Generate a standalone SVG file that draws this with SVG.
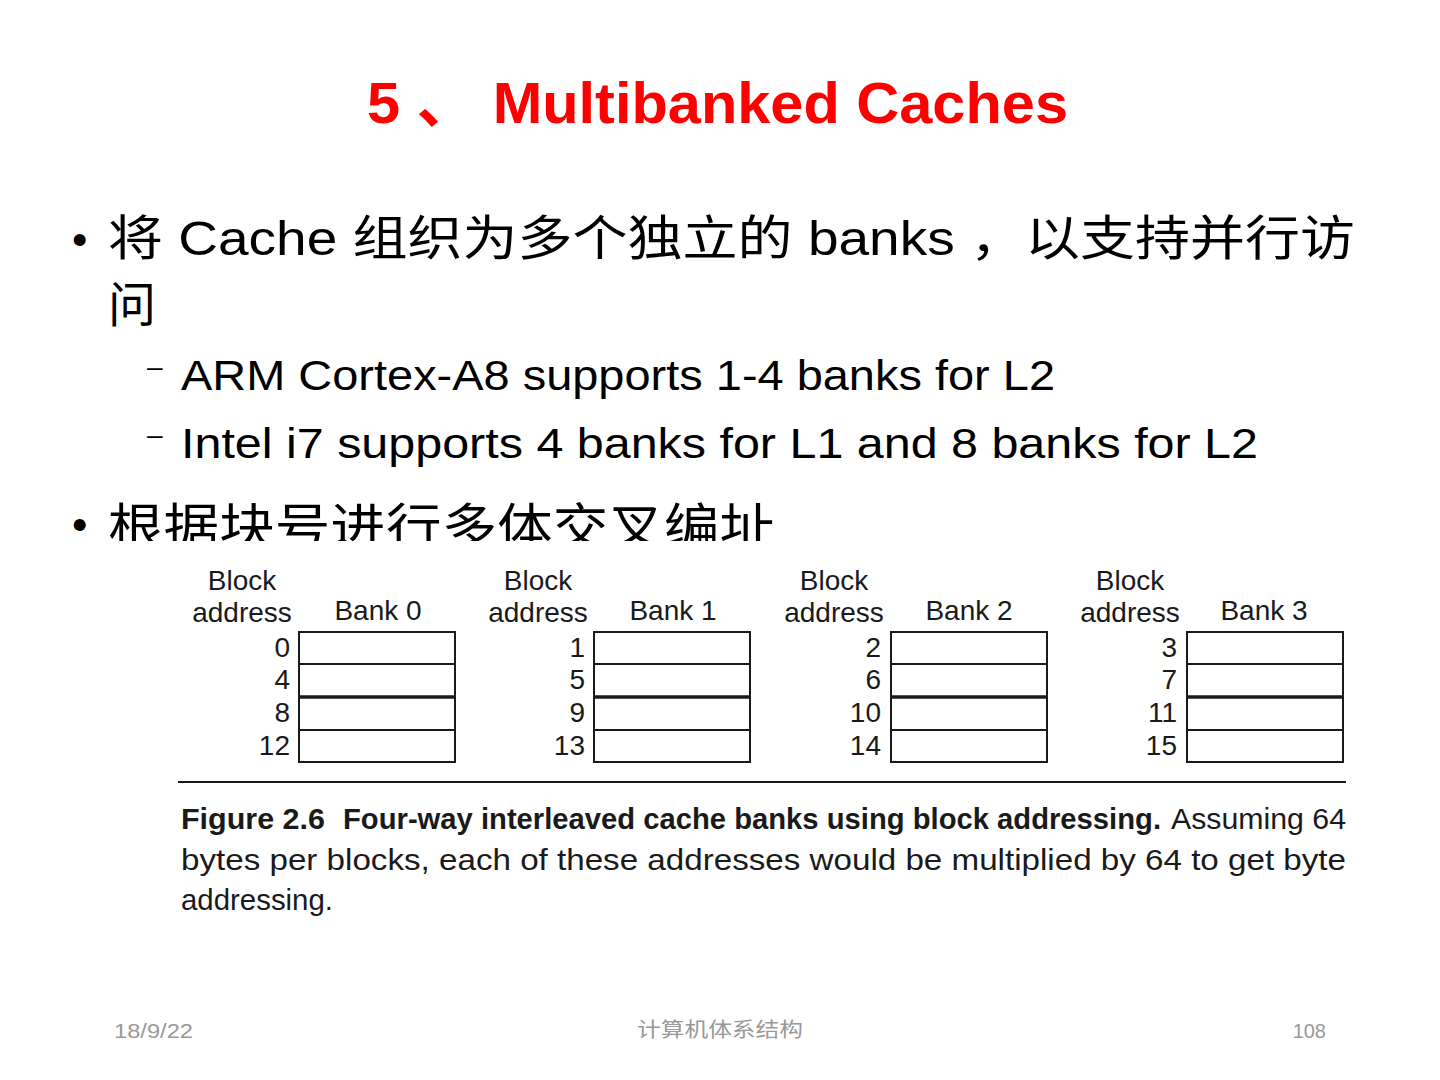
<svg xmlns="http://www.w3.org/2000/svg" width="1440" height="1080" viewBox="0 0 1440 1080">
<style>
.t{font-family:"Liberation Sans","Noto Sans CJK SC",sans-serif;fill:#000}
.title{font-family:"Liberation Sans","Noto Sans CJK SC",sans-serif;fill:#ff0000;font-weight:bold;font-size:58px}
.fig{font-family:"Liberation Sans",sans-serif;fill:#1a1a1a;font-size:28px}
.num{font-family:"Liberation Sans",sans-serif;fill:#1a1a1a;font-size:28px;text-anchor:end}
.cap{font-family:"Liberation Sans Narrow","Liberation Sans",sans-serif;fill:#1a1a1a;font-size:29px}
.foot{font-family:"Liberation Sans","Noto Sans CJK SC",sans-serif;fill:#999;font-size:20px}
.box{fill:#fff;stroke:#1a1a1a;stroke-width:2}
.row{stroke:#1a1a1a;stroke-width:2}
.rowb{stroke:#1a1a1a;stroke-width:3.5}
</style>
<rect width="1440" height="1080" fill="#fff"/>
<g id="title">
<text class="title" x="367" y="123" textLength="701" lengthAdjust="spacingAndGlyphs">5 、 Multibanked Caches</text>
</g>
<g id="bullets">
<text class="t" x="72" y="255" font-size="44">•</text>
<text class="t" x="108" y="255" font-size="48" textLength="1247" lengthAdjust="spacingAndGlyphs">将 Cache 组织为多个独立的 banks ，以支持并行访</text>
<text class="t" x="108" y="322" font-size="48">问</text>
<text class="t" x="147" y="376" font-size="28">–</text>
<text class="t" x="181" y="390" font-size="42" textLength="874" lengthAdjust="spacingAndGlyphs">ARM Cortex-A8 supports 1-4 banks for L2</text>
<text class="t" x="147" y="444" font-size="28">–</text>
<text class="t" x="181" y="458" font-size="42" textLength="1077" lengthAdjust="spacingAndGlyphs">Intel i7 supports 4 banks for L1 and 8 banks for L2</text>
<text class="t" x="72" y="540" font-size="44">•</text>
<text class="t" x="108" y="545" font-size="50" textLength="667" lengthAdjust="spacingAndGlyphs">根据块号进行多体交叉编址</text>
</g>
<rect x="100" y="541" width="1260" height="390" fill="#fff"/>
<g id="bank0">
<text class="fig" x="242" y="590" text-anchor="middle">Block</text>
<text class="fig" x="242" y="622" text-anchor="middle">address</text>
<text class="fig" x="378" y="620" text-anchor="middle">Bank 0</text>
<rect class="box" x="299" y="632" width="156" height="130"/>
<line class="row" x1="299" y1="664" x2="455" y2="664"/>
<line class="rowb" x1="299" y1="697" x2="455" y2="697"/>
<line class="row" x1="299" y1="730" x2="455" y2="730"/>
<text class="num" x="290" y="657">0</text>
<text class="num" x="290" y="689">4</text>
<text class="num" x="290" y="722">8</text>
<text class="num" x="290" y="755">12</text>
</g>
<g id="bank1">
<text class="fig" x="538" y="590" text-anchor="middle">Block</text>
<text class="fig" x="538" y="622" text-anchor="middle">address</text>
<text class="fig" x="673" y="620" text-anchor="middle">Bank 1</text>
<rect class="box" x="594" y="632" width="156" height="130"/>
<line class="row" x1="594" y1="664" x2="750" y2="664"/>
<line class="rowb" x1="594" y1="697" x2="750" y2="697"/>
<line class="row" x1="594" y1="730" x2="750" y2="730"/>
<text class="num" x="585" y="657">1</text>
<text class="num" x="585" y="689">5</text>
<text class="num" x="585" y="722">9</text>
<text class="num" x="585" y="755">13</text>
</g>
<g id="bank2">
<text class="fig" x="834" y="590" text-anchor="middle">Block</text>
<text class="fig" x="834" y="622" text-anchor="middle">address</text>
<text class="fig" x="969" y="620" text-anchor="middle">Bank 2</text>
<rect class="box" x="891" y="632" width="156" height="130"/>
<line class="row" x1="891" y1="664" x2="1047" y2="664"/>
<line class="rowb" x1="891" y1="697" x2="1047" y2="697"/>
<line class="row" x1="891" y1="730" x2="1047" y2="730"/>
<text class="num" x="881" y="657">2</text>
<text class="num" x="881" y="689">6</text>
<text class="num" x="881" y="722">10</text>
<text class="num" x="881" y="755">14</text>
</g>
<g id="bank3">
<text class="fig" x="1130" y="590" text-anchor="middle">Block</text>
<text class="fig" x="1130" y="622" text-anchor="middle">address</text>
<text class="fig" x="1264" y="620" text-anchor="middle">Bank 3</text>
<rect class="box" x="1187" y="632" width="156" height="130"/>
<line class="row" x1="1187" y1="664" x2="1343" y2="664"/>
<line class="rowb" x1="1187" y1="697" x2="1343" y2="697"/>
<line class="row" x1="1187" y1="730" x2="1343" y2="730"/>
<text class="num" x="1177" y="657">3</text>
<text class="num" x="1177" y="689">7</text>
<text class="num" x="1177" y="722">11</text>
<text class="num" x="1177" y="755">15</text>
</g>
<g id="connectors"></g>
<g id="caption">
<line x1="178" y1="782" x2="1346" y2="782" stroke="#1a1a1a" stroke-width="2"/>
<text class="cap" x="181" y="829" font-weight="bold" textLength="144" lengthAdjust="spacingAndGlyphs">Figure 2.6</text>
<text class="cap" x="343" y="829" font-weight="bold" textLength="818" lengthAdjust="spacingAndGlyphs">Four-way interleaved cache banks using block addressing.</text>
<text class="cap" x="1171" y="829" textLength="175" lengthAdjust="spacingAndGlyphs">Assuming 64</text>
<text class="cap" x="181" y="870" textLength="1165" lengthAdjust="spacingAndGlyphs">bytes per blocks, each of these addresses would be multiplied by 64 to get byte</text>
<text class="cap" x="181" y="910" textLength="152" lengthAdjust="spacingAndGlyphs">addressing.</text>
</g>
<g id="footer">
<text class="foot" x="114" y="1038" textLength="79" lengthAdjust="spacingAndGlyphs">18/9/22</text>
<text class="foot" x="637" y="1037" font-size="23" textLength="166" lengthAdjust="spacingAndGlyphs">计算机体系结构</text>
<text class="foot" x="1326" y="1038" text-anchor="end">108</text>
</g>
</svg>
